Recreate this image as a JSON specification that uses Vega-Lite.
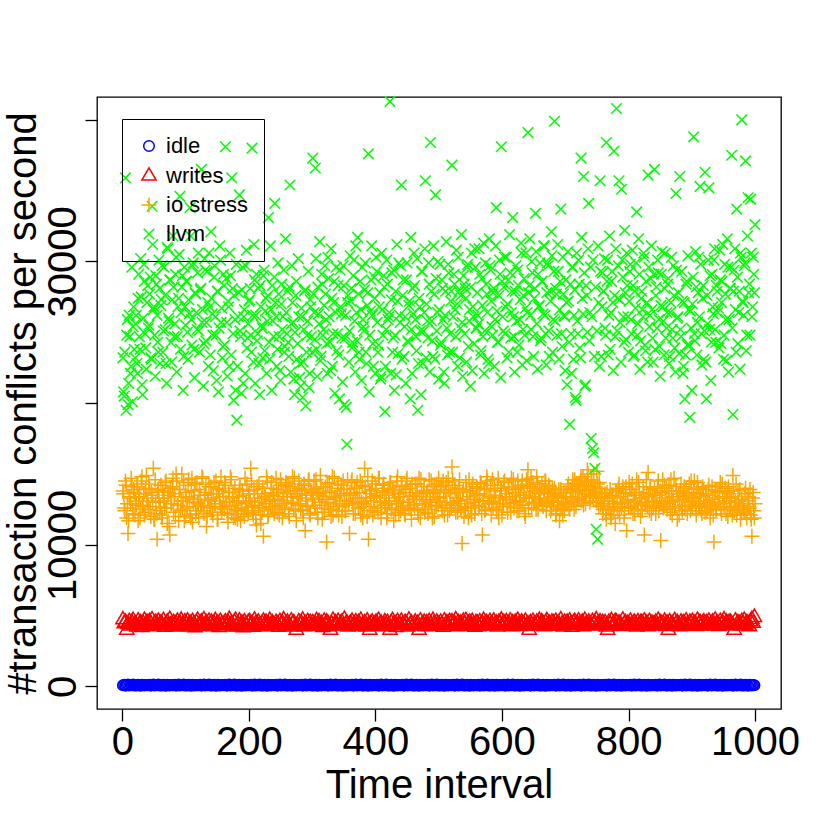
{
"$schema": "https://vega.github.io/schema/vega-lite/v6.json",
"width": 684, "height": 612,
"autosize": "none",
"padding": {"left": 97, "top": 97, "right": 49, "bottom": 121},
"background": "white",
"config": {"view": {"stroke": "black", "strokeWidth": 1.3}, "font": "Liberation Sans"},
"data": {"values": [
{"t":1,"a":85,"b":4710,"c":13800,"d":23200},{"t":3,"a":110,"b":4440,"c":12600,"d":20500},{"t":5,"a":62,"b":4540,"c":14500,"d":35900},{"t":7,"a":97,"b":3980,"c":11900,"d":24800},{"t":9,"a":130,"b":4380,"c":10800,"d":19900},{"t":11,"a":74,"b":4590,"c":13400,"d":26200},{"t":13,"a":102,"b":4270,"c":12900,"d":22100},{"t":15,"a":88,"b":4500,"c":14100,"d":29600},{"t":17,"a":145,"b":4670,"c":12200,"d":25400},{"t":19,"a":69,"b":4330,"c":13700,"d":23800},
{"t":21,"a":93,"b":4420,"c":13100,"d":25600},{"t":23,"a":71,"b":4210,"c":14300,"d":22800},{"t":25,"a":118,"b":4630,"c":11700,"d":27400},{"t":27,"a":84,"b":4350,"c":13600,"d":24700},{"t":29,"a":56,"b":4500,"c":12500,"d":30200},{"t":31,"a":126,"b":4170,"c":14800,"d":21300},{"t":33,"a":99,"b":4460,"c":12800,"d":26000},{"t":35,"a":77,"b":4670,"c":12100,"d":28600},{"t":37,"a":108,"b":4310,"c":13900,"d":23900},{"t":39,"a":90,"b":4540,"c":13300,"d":27100},
{"t":41,"a":85,"b":4270,"c":12700,"d":25300},{"t":43,"a":110,"b":4590,"c":14000,"d":27700},{"t":45,"a":62,"b":4380,"c":12000,"d":23200},{"t":47,"a":97,"b":4710,"c":13500,"d":33900},{"t":49,"a":130,"b":4230,"c":15400,"d":26600},{"t":51,"a":74,"b":4440,"c":11800,"d":24800},{"t":53,"a":102,"b":4540,"c":13000,"d":29000},{"t":55,"a":88,"b":4290,"c":10400,"d":26200},{"t":57,"a":145,"b":4610,"c":13800,"d":23600},{"t":59,"a":69,"b":4360,"c":12400,"d":28100},
{"t":61,"a":93,"b":4480,"c":14200,"d":26900},{"t":63,"a":71,"b":4330,"c":11900,"d":29700},{"t":65,"a":118,"b":4650,"c":13300,"d":25100},{"t":67,"a":84,"b":4190,"c":12600,"d":27600},{"t":69,"a":56,"b":4420,"c":14500,"d":22800},{"t":71,"a":126,"b":4550,"c":11500,"d":31000},{"t":73,"a":99,"b":4290,"c":13700,"d":26000},{"t":75,"a":77,"b":4730,"c":10700,"d":28700},{"t":77,"a":108,"b":4380,"c":12900,"d":24300},{"t":79,"a":90,"b":4250,"c":14100,"d":27300},
{"t":81,"a":85,"b":4520,"c":12300,"d":28200},{"t":83,"a":110,"b":4310,"c":13600,"d":25600},{"t":85,"a":62,"b":4440,"c":15000,"d":30300},{"t":87,"a":97,"b":4610,"c":12800,"d":24700},{"t":89,"a":130,"b":4210,"c":11700,"d":27400},{"t":91,"a":74,"b":4460,"c":13900,"d":34600},{"t":93,"a":102,"b":4690,"c":13100,"d":26400},{"t":95,"a":88,"b":4350,"c":12500,"d":29000},{"t":97,"a":145,"b":4270,"c":14400,"d":23300},{"t":99,"a":69,"b":4570,"c":12000,"d":26800},
{"t":101,"a":93,"b":4380,"c":13400,"d":28600},{"t":103,"a":71,"b":4630,"c":12700,"d":25000},{"t":105,"a":118,"b":4230,"c":14600,"d":27300},{"t":107,"a":84,"b":4480,"c":12100,"d":33800},{"t":109,"a":56,"b":4330,"c":13800,"d":25900},{"t":111,"a":126,"b":4590,"c":11600,"d":29700},{"t":113,"a":99,"b":4420,"c":13200,"d":23800},{"t":115,"a":77,"b":4160,"c":14300,"d":27800},{"t":117,"a":108,"b":4520,"c":12400,"d":26400},{"t":119,"a":90,"b":4670,"c":13000,"d":29200},
{"t":121,"a":85,"b":4310,"c":11900,"d":25100},{"t":123,"a":110,"b":4460,"c":13500,"d":28000},{"t":125,"a":62,"b":4550,"c":12800,"d":36500},{"t":127,"a":97,"b":4250,"c":14700,"d":26600},{"t":129,"a":130,"b":4710,"c":12200,"d":24200},{"t":131,"a":74,"b":4380,"c":13700,"d":29400},{"t":133,"a":102,"b":4500,"c":11300,"d":25700},{"t":135,"a":88,"b":4290,"c":13100,"d":27100},{"t":137,"a":145,"b":4610,"c":14100,"d":30600},{"t":139,"a":69,"b":4400,"c":12600,"d":23400},
{"t":141,"a":93,"b":4540,"c":13300,"d":27400},{"t":143,"a":71,"b":4230,"c":12100,"d":24800},{"t":145,"a":118,"b":4440,"c":14400,"d":28900},{"t":147,"a":84,"b":4650,"c":12900,"d":26100},{"t":149,"a":56,"b":4350,"c":13600,"d":21600},{"t":151,"a":126,"b":4480,"c":11800,"d":27900},{"t":153,"a":99,"b":4170,"c":14000,"d":25300},{"t":155,"a":77,"b":4590,"c":12700,"d":30100},{"t":157,"a":108,"b":4420,"c":12300,"d":26700},{"t":159,"a":90,"b":4330,"c":13800,"d":24000},
{"t":161,"a":85,"b":4440,"c":12500,"d":28300},{"t":163,"a":110,"b":4570,"c":14200,"d":38100},{"t":165,"a":62,"b":4270,"c":13000,"d":25700},{"t":167,"a":97,"b":4500,"c":11600,"d":27200},{"t":169,"a":130,"b":4740,"c":13400,"d":22600},{"t":171,"a":74,"b":4330,"c":14800,"d":29000},{"t":173,"a":102,"b":4460,"c":12200,"d":35900},{"t":175,"a":88,"b":4210,"c":13700,"d":24900},{"t":177,"a":145,"b":4540,"c":12800,"d":27600},{"t":179,"a":69,"b":4670,"c":11900,"d":20900},
{"t":181,"a":93,"b":4230,"c":13100,"d":18800},{"t":183,"a":71,"b":4400,"c":12400,"d":26100},{"t":185,"a":118,"b":4630,"c":13900,"d":34700},{"t":187,"a":84,"b":4310,"c":11700,"d":24700},{"t":189,"a":56,"b":4480,"c":12600,"d":28000},{"t":191,"a":126,"b":4160,"c":13500,"d":21400},{"t":193,"a":99,"b":4570,"c":12000,"d":26600},{"t":195,"a":77,"b":4420,"c":12900,"d":29700},{"t":197,"a":108,"b":4270,"c":14300,"d":23900},{"t":199,"a":90,"b":4520,"c":12200,"d":25600},
{"t":201,"a":85,"b":4590,"c":13800,"d":27300},{"t":203,"a":110,"b":4350,"c":15400,"d":24800},{"t":205,"a":62,"b":4460,"c":12700,"d":38000},{"t":207,"a":97,"b":4190,"c":12100,"d":22900},{"t":209,"a":130,"b":4690,"c":13300,"d":28700},{"t":211,"a":74,"b":4440,"c":11800,"d":26200},{"t":213,"a":102,"b":4290,"c":14100,"d":24400},{"t":215,"a":88,"b":4550,"c":12600,"d":28100},{"t":217,"a":145,"b":4380,"c":13000,"d":20600},{"t":219,"a":69,"b":4250,"c":11500,"d":26800},
{"t":221,"a":93,"b":4460,"c":12400,"d":25300},{"t":223,"a":71,"b":4610,"c":10600,"d":29000},{"t":225,"a":118,"b":4330,"c":13600,"d":23700},{"t":227,"a":84,"b":4540,"c":12900,"d":27400},{"t":229,"a":56,"b":4230,"c":14500,"d":25800},{"t":231,"a":126,"b":4400,"c":12100,"d":33100},{"t":233,"a":99,"b":4670,"c":13200,"d":23100},{"t":235,"a":77,"b":4310,"c":14000,"d":26600},{"t":237,"a":108,"b":4500,"c":12500,"d":28300},{"t":239,"a":90,"b":4360,"c":13700,"d":24700},
{"t":241,"a":85,"b":4290,"c":13100,"d":34100},{"t":243,"a":110,"b":4520,"c":14700,"d":26100},{"t":245,"a":62,"b":4420,"c":12300,"d":23800},{"t":247,"a":97,"b":4190,"c":13900,"d":27700},{"t":249,"a":130,"b":4590,"c":12800,"d":22300},{"t":251,"a":74,"b":4350,"c":14200,"d":27000},{"t":253,"a":102,"b":4480,"c":11900,"d":25200},{"t":255,"a":88,"b":4710,"c":13400,"d":29400},{"t":257,"a":145,"b":4250,"c":12600,"d":24000},{"t":259,"a":69,"b":4440,"c":14400,"d":26400},
{"t":261,"a":93,"b":4540,"c":13600,"d":27900},{"t":263,"a":71,"b":4380,"c":12200,"d":23300},{"t":265,"a":118,"b":4270,"c":14100,"d":35400},{"t":267,"a":84,"b":4630,"c":13000,"d":25600},{"t":269,"a":56,"b":4420,"c":14800,"d":27100},{"t":271,"a":126,"b":4500,"c":12500,"d":21700},{"t":273,"a":99,"b":4210,"c":13800,"d":25000},{"t":275,"a":77,"b":3980,"c":11700,"d":28600},{"t":277,"a":108,"b":4330,"c":13300,"d":24200},{"t":279,"a":90,"b":4570,"c":14500,"d":26100},
{"t":281,"a":85,"b":4360,"c":12900,"d":22800},{"t":283,"a":110,"b":4480,"c":13900,"d":26700},{"t":285,"a":62,"b":4690,"c":12400,"d":20400},{"t":287,"a":97,"b":4230,"c":14300,"d":25200},{"t":289,"a":130,"b":4460,"c":11000,"d":28000},{"t":291,"a":74,"b":4310,"c":13500,"d":23600},{"t":293,"a":102,"b":4590,"c":12700,"d":25800},{"t":295,"a":88,"b":4400,"c":14600,"d":21100},{"t":297,"a":145,"b":4520,"c":12100,"d":27300},{"t":299,"a":69,"b":4270,"c":13700,"d":24700},
{"t":301,"a":93,"b":4500,"c":13200,"d":37300},{"t":303,"a":71,"b":4250,"c":14500,"d":26400},{"t":305,"a":118,"b":4400,"c":12600,"d":36600},{"t":307,"a":84,"b":4650,"c":14000,"d":23800},{"t":309,"a":56,"b":4350,"c":11900,"d":28200},{"t":311,"a":126,"b":4570,"c":13600,"d":25600},{"t":313,"a":99,"b":4290,"c":14900,"d":23000},{"t":315,"a":77,"b":4440,"c":12800,"d":29100},{"t":317,"a":108,"b":4170,"c":13400,"d":24800},{"t":319,"a":90,"b":4610,"c":12300,"d":26900},
{"t":321,"a":85,"b":4330,"c":14100,"d":27700},{"t":323,"a":110,"b":4550,"c":10200,"d":24200},{"t":325,"a":62,"b":4460,"c":13000,"d":30300},{"t":327,"a":97,"b":4230,"c":14400,"d":26100},{"t":329,"a":130,"b":3980,"c":12500,"d":22300},{"t":331,"a":74,"b":4400,"c":13800,"d":27400},{"t":333,"a":102,"b":4670,"c":12100,"d":24900},{"t":335,"a":88,"b":4310,"c":14700,"d":28600},{"t":337,"a":145,"b":4500,"c":13300,"d":26400},{"t":339,"a":69,"b":4380,"c":12700,"d":23700},
{"t":341,"a":93,"b":4590,"c":14300,"d":28300},{"t":343,"a":71,"b":4290,"c":12900,"d":20300},{"t":345,"a":118,"b":4440,"c":13600,"d":26800},{"t":347,"a":84,"b":4540,"c":12000,"d":24600},{"t":349,"a":56,"b":4270,"c":14500,"d":29700},{"t":351,"a":126,"b":4740,"c":13100,"d":19900},{"t":353,"a":99,"b":4380,"c":12400,"d":26200},{"t":355,"a":77,"b":4480,"c":13900,"d":17100},{"t":357,"a":108,"b":4210,"c":12800,"d":27600},{"t":359,"a":90,"b":4420,"c":10800,"d":25100},
{"t":361,"a":85,"b":4460,"c":13500,"d":27200},{"t":363,"a":110,"b":4610,"c":14600,"d":23900},{"t":365,"a":62,"b":4310,"c":12200,"d":29000},{"t":367,"a":97,"b":4400,"c":14000,"d":25800},{"t":369,"a":130,"b":4570,"c":13000,"d":31100},{"t":371,"a":74,"b":4250,"c":14400,"d":24400},{"t":373,"a":102,"b":4520,"c":12600,"d":27700},{"t":375,"a":88,"b":4350,"c":13700,"d":23100},{"t":377,"a":145,"b":4670,"c":12100,"d":26600},{"t":379,"a":69,"b":4290,"c":14200,"d":29600},
{"t":381,"a":93,"b":4380,"c":12900,"d":25400},{"t":383,"a":71,"b":4500,"c":15400,"d":28000},{"t":385,"a":118,"b":4210,"c":13300,"d":23600},{"t":387,"a":84,"b":4630,"c":12000,"d":26900},{"t":389,"a":56,"b":4330,"c":10400,"d":37600},{"t":391,"a":126,"b":3980,"c":13800,"d":24800},{"t":393,"a":99,"b":4460,"c":12700,"d":28700},{"t":395,"a":77,"b":4550,"c":14500,"d":26200},{"t":397,"a":108,"b":4290,"c":13100,"d":22600},{"t":399,"a":90,"b":4420,"c":12400,"d":27400},
{"t":401,"a":85,"b":4540,"c":14000,"d":30300},{"t":403,"a":110,"b":4270,"c":12600,"d":25700},{"t":405,"a":62,"b":4670,"c":14700,"d":24100},{"t":407,"a":97,"b":4360,"c":13300,"d":27800},{"t":409,"a":130,"b":4480,"c":11900,"d":21900},{"t":411,"a":74,"b":4230,"c":13800,"d":26600},{"t":413,"a":102,"b":4400,"c":14300,"d":29000},{"t":415,"a":88,"b":4570,"c":12800,"d":19400},{"t":417,"a":145,"b":4310,"c":13500,"d":25200},{"t":419,"a":69,"b":4520,"c":12200,"d":28400},
{"t":421,"a":93,"b":4250,"c":13100,"d":26100},{"t":423,"a":71,"b":3980,"c":14400,"d":41300},{"t":425,"a":118,"b":4500,"c":12500,"d":27300},{"t":427,"a":84,"b":4650,"c":13900,"d":23600},{"t":429,"a":56,"b":4350,"c":11700,"d":29400},{"t":431,"a":126,"b":4440,"c":13600,"d":24800},{"t":433,"a":99,"b":4170,"c":12900,"d":22000},{"t":435,"a":77,"b":4590,"c":14800,"d":27200},{"t":437,"a":108,"b":4420,"c":12300,"d":29900},{"t":439,"a":90,"b":4310,"c":13400,"d":25700},
{"t":441,"a":85,"b":4610,"c":14200,"d":35400},{"t":443,"a":110,"b":4380,"c":12700,"d":27600},{"t":445,"a":62,"b":4290,"c":13700,"d":23300},{"t":447,"a":97,"b":4520,"c":12100,"d":26100},{"t":449,"a":130,"b":4440,"c":14500,"d":28700},{"t":451,"a":74,"b":4210,"c":13000,"d":24400},{"t":453,"a":102,"b":4690,"c":12600,"d":26900},{"t":455,"a":88,"b":4350,"c":14000,"d":20300},{"t":457,"a":145,"b":4480,"c":11800,"d":25200},{"t":459,"a":69,"b":4270,"c":13500,"d":28100},
{"t":461,"a":93,"b":4400,"c":12800,"d":30600},{"t":463,"a":71,"b":4550,"c":14300,"d":25900},{"t":465,"a":118,"b":4330,"c":13200,"d":23700},{"t":467,"a":84,"b":4460,"c":12400,"d":19500},{"t":469,"a":56,"b":3980,"c":14700,"d":27400},{"t":471,"a":126,"b":4630,"c":11900,"d":25100},{"t":473,"a":99,"b":4310,"c":13600,"d":29300},{"t":475,"a":77,"b":4420,"c":12900,"d":22800},{"t":477,"a":108,"b":4540,"c":14100,"d":26400},{"t":479,"a":90,"b":4230,"c":12500,"d":35700},
{"t":481,"a":85,"b":4500,"c":13700,"d":27000},{"t":483,"a":110,"b":4290,"c":12200,"d":24600},{"t":485,"a":62,"b":4590,"c":14600,"d":28400},{"t":487,"a":97,"b":4380,"c":13000,"d":38400},{"t":489,"a":130,"b":4250,"c":12700,"d":25800},{"t":491,"a":74,"b":4670,"c":13900,"d":23300},{"t":493,"a":102,"b":4460,"c":12000,"d":27700},{"t":495,"a":88,"b":4330,"c":13400,"d":34700},{"t":497,"a":145,"b":4550,"c":14300,"d":25100},{"t":499,"a":69,"b":4400,"c":12800,"d":30000},
{"t":501,"a":93,"b":4270,"c":13300,"d":26600},{"t":503,"a":71,"b":4540,"c":14100,"d":24100},{"t":505,"a":118,"b":4420,"c":12600,"d":28700},{"t":507,"a":84,"b":4190,"c":14500,"d":25900},{"t":509,"a":56,"b":4630,"c":12100,"d":21400},{"t":511,"a":126,"b":4360,"c":13800,"d":27900},{"t":513,"a":99,"b":4500,"c":13000,"d":25300},{"t":515,"a":77,"b":4290,"c":14700,"d":29800},{"t":517,"a":108,"b":4590,"c":12400,"d":23600},{"t":519,"a":90,"b":4440,"c":13600,"d":27200},
{"t":521,"a":85,"b":4570,"c":15500,"d":36800},{"t":523,"a":110,"b":4330,"c":12900,"d":26100},{"t":525,"a":62,"b":4460,"c":14200,"d":28400},{"t":527,"a":97,"b":4710,"c":12300,"d":24700},{"t":529,"a":130,"b":4230,"c":13700,"d":27000},{"t":531,"a":74,"b":4520,"c":13100,"d":30300},{"t":533,"a":102,"b":4380,"c":14600,"d":23200},{"t":535,"a":88,"b":4480,"c":12500,"d":27600},{"t":537,"a":145,"b":4310,"c":10100,"d":25700},{"t":539,"a":69,"b":4610,"c":13900,"d":29000},
{"t":541,"a":93,"b":4360,"c":12700,"d":24900},{"t":543,"a":71,"b":4650,"c":14400,"d":27400},{"t":545,"a":118,"b":4250,"c":13200,"d":29600},{"t":547,"a":84,"b":4440,"c":11900,"d":24000},{"t":549,"a":56,"b":4540,"c":13800,"d":26600},{"t":551,"a":126,"b":4310,"c":12600,"d":28200},{"t":553,"a":99,"b":4590,"c":14100,"d":22300},{"t":555,"a":77,"b":4400,"c":13000,"d":26100},{"t":557,"a":108,"b":4190,"c":12200,"d":30900},{"t":559,"a":90,"b":4500,"c":13500,"d":25300},
{"t":561,"a":85,"b":4480,"c":14000,"d":27800},{"t":563,"a":110,"b":4230,"c":12800,"d":25600},{"t":565,"a":62,"b":4570,"c":13600,"d":29100},{"t":567,"a":97,"b":4350,"c":14300,"d":23700},{"t":569,"a":130,"b":4460,"c":10700,"d":26900},{"t":571,"a":74,"b":4670,"c":13100,"d":31300},{"t":573,"a":102,"b":4270,"c":12400,"d":25100},{"t":575,"a":88,"b":4520,"c":13900,"d":28400},{"t":577,"a":145,"b":4420,"c":14500,"d":26400},{"t":579,"a":69,"b":4330,"c":12900,"d":22800},
{"t":581,"a":93,"b":4590,"c":13400,"d":29700},{"t":583,"a":71,"b":4400,"c":12100,"d":27200},{"t":585,"a":118,"b":4310,"c":14600,"d":24800},{"t":587,"a":84,"b":4630,"c":13000,"d":28100},{"t":589,"a":56,"b":4360,"c":13800,"d":25900},{"t":591,"a":126,"b":4480,"c":12500,"d":33800},{"t":593,"a":99,"b":4210,"c":14200,"d":24300},{"t":595,"a":77,"b":4540,"c":11900,"d":27600},{"t":597,"a":108,"b":4440,"c":13300,"d":29100},{"t":599,"a":90,"b":4690,"c":14000,"d":38100},
{"t":601,"a":85,"b":4290,"c":12700,"d":26100},{"t":603,"a":110,"b":4520,"c":14400,"d":28200},{"t":605,"a":62,"b":4420,"c":13200,"d":24900},{"t":607,"a":97,"b":4570,"c":13600,"d":30300},{"t":609,"a":130,"b":4330,"c":12300,"d":27000},{"t":611,"a":74,"b":4440,"c":14100,"d":23600},{"t":613,"a":102,"b":4630,"c":12900,"d":29200},{"t":615,"a":88,"b":4230,"c":14700,"d":26400},{"t":617,"a":145,"b":4500,"c":13400,"d":33100},{"t":619,"a":69,"b":4380,"c":12600,"d":24700},
{"t":621,"a":93,"b":4540,"c":13900,"d":27900},{"t":623,"a":71,"b":4310,"c":13100,"d":25800},{"t":625,"a":118,"b":4670,"c":14500,"d":29400},{"t":627,"a":84,"b":4400,"c":12400,"d":24100},{"t":629,"a":56,"b":4250,"c":13700,"d":27300},{"t":631,"a":126,"b":4550,"c":14200,"d":30600},{"t":633,"a":99,"b":4460,"c":12800,"d":25200},{"t":635,"a":77,"b":4350,"c":13500,"d":28800},{"t":637,"a":108,"b":4610,"c":12000,"d":26700},{"t":639,"a":90,"b":4270,"c":14600,"d":23000},
{"t":641,"a":85,"b":4420,"c":15300,"d":39100},{"t":643,"a":110,"b":3980,"c":13300,"d":28300},{"t":645,"a":62,"b":4500,"c":14000,"d":26200},{"t":647,"a":97,"b":4330,"c":12600,"d":30000},{"t":649,"a":130,"b":4590,"c":14400,"d":24700},{"t":651,"a":74,"b":4380,"c":13000,"d":27400},{"t":653,"a":102,"b":4270,"c":13700,"d":33400},{"t":655,"a":88,"b":4540,"c":14800,"d":25600},{"t":657,"a":145,"b":4440,"c":12500,"d":29100},{"t":659,"a":69,"b":4670,"c":13900,"d":26900},
{"t":661,"a":93,"b":4330,"c":13200,"d":24400},{"t":663,"a":71,"b":4570,"c":14300,"d":28600},{"t":665,"a":118,"b":4440,"c":12700,"d":26300},{"t":667,"a":84,"b":4230,"c":13800,"d":31100},{"t":669,"a":56,"b":4500,"c":14500,"d":24900},{"t":671,"a":126,"b":4650,"c":12900,"d":27800},{"t":673,"a":99,"b":4360,"c":13600,"d":29700},{"t":675,"a":77,"b":4460,"c":14100,"d":23300},{"t":677,"a":108,"b":4290,"c":12400,"d":27200},{"t":679,"a":90,"b":4550,"c":13400,"d":30400},
{"t":681,"a":85,"b":4500,"c":12800,"d":25900},{"t":683,"a":110,"b":4270,"c":14000,"d":39900},{"t":685,"a":62,"b":4610,"c":12100,"d":28100},{"t":687,"a":97,"b":4380,"c":13500,"d":24800},{"t":689,"a":130,"b":4480,"c":13000,"d":29300},{"t":691,"a":74,"b":4310,"c":11700,"d":26600},{"t":693,"a":102,"b":4710,"c":13900,"d":33700},{"t":695,"a":88,"b":4420,"c":12600,"d":24000},{"t":697,"a":145,"b":4210,"c":13300,"d":27700},{"t":699,"a":69,"b":4540,"c":12400,"d":26100},
{"t":701,"a":93,"b":4380,"c":13700,"d":28700},{"t":703,"a":71,"b":4540,"c":12900,"d":21300},{"t":705,"a":118,"b":4290,"c":14300,"d":27200},{"t":707,"a":84,"b":4630,"c":12500,"d":18500},{"t":709,"a":56,"b":4420,"c":13400,"d":24900},{"t":711,"a":126,"b":4190,"c":14000,"d":29600},{"t":713,"a":99,"b":4500,"c":13100,"d":23100},{"t":715,"a":77,"b":4590,"c":14600,"d":28000},{"t":717,"a":108,"b":4330,"c":12700,"d":20200},{"t":719,"a":90,"b":4460,"c":13800,"d":25800},
{"t":721,"a":85,"b":4630,"c":14200,"d":30100},{"t":723,"a":110,"b":4310,"c":13300,"d":23900},{"t":725,"a":62,"b":4460,"c":14700,"d":37300},{"t":727,"a":97,"b":4540,"c":13900,"d":27400},{"t":729,"a":130,"b":4230,"c":12800,"d":36000},{"t":731,"a":74,"b":4670,"c":14400,"d":21200},{"t":733,"a":102,"b":4400,"c":13600,"d":28300},{"t":735,"a":88,"b":4330,"c":15300,"d":25000},{"t":737,"a":145,"b":4550,"c":14100,"d":34100},{"t":739,"a":69,"b":4440,"c":13000,"d":26400},
{"t":741,"a":93,"b":4270,"c":14500,"d":17500},{"t":743,"a":71,"b":4590,"c":13500,"d":16800},{"t":745,"a":118,"b":4380,"c":15000,"d":16500},{"t":747,"a":84,"b":4480,"c":13800,"d":15400},{"t":749,"a":56,"b":4710,"c":13100,"d":11100},{"t":751,"a":126,"b":4350,"c":14300,"d":10400},{"t":753,"a":99,"b":4440,"c":12700,"d":27100},{"t":755,"a":77,"b":4570,"c":14000,"d":35700},{"t":757,"a":108,"b":4310,"c":13400,"d":23300},{"t":759,"a":90,"b":4520,"c":12200,"d":29200},
{"t":761,"a":85,"b":4420,"c":12900,"d":27900},{"t":763,"a":110,"b":4500,"c":13600,"d":25300},{"t":765,"a":62,"b":4210,"c":11800,"d":38400},{"t":767,"a":97,"b":3980,"c":13100,"d":30100},{"t":769,"a":130,"b":4540,"c":12500,"d":26200},{"t":771,"a":74,"b":4380,"c":13900,"d":23800},{"t":773,"a":102,"b":4650,"c":12100,"d":28600},{"t":775,"a":88,"b":4290,"c":13300,"d":27100},{"t":777,"a":145,"b":4440,"c":12700,"d":37800},{"t":779,"a":69,"b":4590,"c":11500,"d":24700},
{"t":781,"a":93,"b":4550,"c":13800,"d":40800},{"t":783,"a":71,"b":4330,"c":12400,"d":27400},{"t":785,"a":118,"b":4480,"c":14300,"d":35700},{"t":787,"a":84,"b":4420,"c":13000,"d":25700},{"t":789,"a":56,"b":4250,"c":12600,"d":35100},{"t":791,"a":126,"b":4690,"c":14100,"d":28900},{"t":793,"a":99,"b":4380,"c":11900,"d":24300},{"t":795,"a":77,"b":4520,"c":13600,"d":27800},{"t":797,"a":108,"b":4290,"c":11000,"d":30600},{"t":799,"a":90,"b":4460,"c":13200,"d":26100},
{"t":801,"a":85,"b":4310,"c":14400,"d":27200},{"t":803,"a":110,"b":4610,"c":12700,"d":29800},{"t":805,"a":62,"b":4400,"c":13900,"d":24900},{"t":807,"a":97,"b":4270,"c":12200,"d":28300},{"t":809,"a":130,"b":4540,"c":13500,"d":23400},{"t":811,"a":74,"b":4440,"c":13000,"d":26700},{"t":813,"a":102,"b":4210,"c":14600,"d":33500},{"t":815,"a":88,"b":4570,"c":12500,"d":25600},{"t":817,"a":145,"b":4350,"c":13700,"d":29100},{"t":819,"a":69,"b":4500,"c":12000,"d":24400},
{"t":821,"a":93,"b":4520,"c":13300,"d":27900},{"t":823,"a":71,"b":4290,"c":14100,"d":26100},{"t":825,"a":118,"b":4630,"c":10700,"d":30300},{"t":827,"a":84,"b":4380,"c":12800,"d":23700},{"t":829,"a":56,"b":4460,"c":13600,"d":27100},{"t":831,"a":126,"b":4230,"c":15100,"d":36100},{"t":833,"a":99,"b":4590,"c":12400,"d":25400},{"t":835,"a":77,"b":4330,"c":13900,"d":28800},{"t":837,"a":108,"b":4480,"c":13100,"d":26600},{"t":839,"a":90,"b":4400,"c":12600,"d":22900},
{"t":841,"a":85,"b":4400,"c":14000,"d":36500},{"t":843,"a":110,"b":4540,"c":12200,"d":27600},{"t":845,"a":62,"b":4270,"c":13500,"d":25300},{"t":847,"a":97,"b":4670,"c":14500,"d":29200},{"t":849,"a":130,"b":4360,"c":12900,"d":24000},{"t":851,"a":74,"b":4500,"c":10300,"d":26900},{"t":853,"a":102,"b":4310,"c":13700,"d":30700},{"t":855,"a":88,"b":4440,"c":12600,"d":25800},{"t":857,"a":145,"b":4610,"c":14200,"d":28100},{"t":859,"a":69,"b":4250,"c":13100,"d":24600},
{"t":861,"a":93,"b":4480,"c":12500,"d":26400},{"t":863,"a":71,"b":3980,"c":13800,"d":28800},{"t":865,"a":118,"b":4570,"c":13000,"d":23300},{"t":867,"a":84,"b":4330,"c":14600,"d":27100},{"t":869,"a":56,"b":4440,"c":12100,"d":25200},{"t":871,"a":126,"b":4270,"c":13400,"d":29700},{"t":873,"a":99,"b":4650,"c":12700,"d":23900},{"t":875,"a":77,"b":4400,"c":14100,"d":34800},{"t":877,"a":108,"b":4520,"c":11800,"d":26000},{"t":879,"a":90,"b":4350,"c":13600,"d":27800},
{"t":881,"a":85,"b":4230,"c":13200,"d":36000},{"t":883,"a":110,"b":4550,"c":14300,"d":24700},{"t":885,"a":62,"b":4420,"c":12400,"d":27200},{"t":887,"a":97,"b":4500,"c":13700,"d":22600},{"t":889,"a":130,"b":4310,"c":12800,"d":20300},{"t":891,"a":74,"b":4630,"c":14000,"d":28400},{"t":893,"a":102,"b":4380,"c":12200,"d":24100},{"t":895,"a":88,"b":4290,"c":13500,"d":26600},{"t":897,"a":145,"b":4540,"c":13000,"d":19000},{"t":899,"a":69,"b":4440,"c":14500,"d":25300},
{"t":901,"a":93,"b":4590,"c":12700,"d":27000},{"t":903,"a":71,"b":4350,"c":13900,"d":38800},{"t":905,"a":118,"b":4480,"c":13300,"d":24400},{"t":907,"a":84,"b":4250,"c":12100,"d":28200},{"t":909,"a":56,"b":4670,"c":14400,"d":25700},{"t":911,"a":126,"b":4400,"c":12900,"d":30300},{"t":913,"a":99,"b":4520,"c":13600,"d":35300},{"t":915,"a":77,"b":4310,"c":12400,"d":24900},{"t":917,"a":108,"b":4460,"c":14100,"d":27400},{"t":919,"a":90,"b":4570,"c":13100,"d":23100},
{"t":921,"a":85,"b":4330,"c":12300,"d":36300},{"t":923,"a":110,"b":4500,"c":13500,"d":20300},{"t":925,"a":62,"b":4380,"c":12800,"d":25600},{"t":927,"a":97,"b":4610,"c":14200,"d":35200},{"t":929,"a":130,"b":4270,"c":11900,"d":29000},{"t":931,"a":74,"b":4440,"c":12600,"d":24300},{"t":933,"a":102,"b":4550,"c":13200,"d":26800},{"t":935,"a":88,"b":4290,"c":10200,"d":30100},{"t":937,"a":145,"b":4690,"c":13800,"d":25200},{"t":939,"a":69,"b":4420,"c":12500,"d":28300},
{"t":941,"a":93,"b":4460,"c":13700,"d":26400},{"t":943,"a":71,"b":4250,"c":12900,"d":23900},{"t":945,"a":118,"b":4590,"c":14400,"d":28700},{"t":947,"a":84,"b":4350,"c":12200,"d":27100},{"t":949,"a":56,"b":4480,"c":13400,"d":31200},{"t":951,"a":126,"b":4710,"c":12700,"d":24800},{"t":953,"a":99,"b":4310,"c":14000,"d":27700},{"t":955,"a":77,"b":4540,"c":13100,"d":23000},{"t":957,"a":108,"b":4400,"c":12000,"d":29600},{"t":959,"a":90,"b":4520,"c":13600,"d":25900},
{"t":961,"a":85,"b":4540,"c":12600,"d":28100},{"t":963,"a":110,"b":4420,"c":13300,"d":37500},{"t":965,"a":62,"b":4290,"c":14900,"d":19200},{"t":967,"a":97,"b":3980,"c":12400,"d":29400},{"t":969,"a":130,"b":4630,"c":13000,"d":26600},{"t":971,"a":74,"b":4360,"c":12100,"d":33700},{"t":973,"a":102,"b":4500,"c":13800,"d":24200},{"t":975,"a":88,"b":4440,"c":12700,"d":27900},{"t":977,"a":145,"b":4270,"c":11800,"d":30600},{"t":979,"a":69,"b":4590,"c":13200,"d":40000},
{"t":981,"a":93,"b":4380,"c":12800,"d":27100},{"t":983,"a":71,"b":4670,"c":12300,"d":29700},{"t":985,"a":118,"b":4330,"c":14000,"d":37100},{"t":987,"a":84,"b":4500,"c":11900,"d":24800},{"t":989,"a":56,"b":4440,"c":13400,"d":34500},{"t":991,"a":126,"b":4230,"c":12600,"d":28400},{"t":993,"a":99,"b":4570,"c":12100,"d":34400},{"t":995,"a":77,"b":4740,"c":10600,"d":26100},{"t":997,"a":108,"b":4480,"c":13700,"d":30300},{"t":999,"a":90,"b":4880,"c":11900,"d":27800},
{"t":2,"c":13600,"d":20800},{"t":4,"c":12400,"d":23600},{"t":6,"c":14200,"d":19500},{"t":8,"c":12900,"d":25900},{"t":10,"c":11700,"d":21400},{"t":12,"c":13300,"d":24700},{"t":14,"c":14700,"d":22600},{"t":16,"c":12600,"d":20100},{"t":18,"c":13900,"d":26800},{"t":20,"c":12100,"d":23200},
{"t":22,"c":12800,"d":26200},{"t":24,"c":14100,"d":22100},{"t":26,"c":13400,"d":29100},{"t":28,"c":11900,"d":23800},{"t":30,"c":14500,"d":27500},{"t":32,"c":12700,"d":20600},{"t":34,"c":13600,"d":29800},{"t":36,"c":12300,"d":24900},{"t":38,"c":14900,"d":22400},{"t":40,"c":13100,"d":28300},
{"t":42,"c":14300,"d":25500},{"t":44,"c":12500,"d":28900},{"t":46,"c":13700,"d":23100},{"t":48,"c":13000,"d":31200},{"t":50,"c":11800,"d":26800},{"t":52,"c":14600,"d":21900},{"t":54,"c":12200,"d":28400},{"t":56,"c":13900,"d":24300},{"t":58,"c":13300,"d":30100},{"t":60,"c":12700,"d":22800},
{"t":62,"c":12100,"d":27300},{"t":64,"c":13800,"d":23600},{"t":66,"c":13100,"d":29600},{"t":68,"c":14400,"d":25200},{"t":70,"c":12600,"d":21400},{"t":72,"c":13500,"d":30900},{"t":74,"c":11300,"d":25800},{"t":76,"c":14000,"d":28700},{"t":78,"c":12900,"d":22900},{"t":80,"c":14700,"d":31800},
{"t":82,"c":13400,"d":24700},{"t":84,"c":12000,"d":29100},{"t":86,"c":14500,"d":22200},{"t":88,"c":12800,"d":26800},{"t":90,"c":13900,"d":30500},{"t":92,"c":12400,"d":23800},{"t":94,"c":15000,"d":28200},{"t":96,"c":13100,"d":20900},{"t":98,"c":11700,"d":29600},{"t":100,"c":13700,"d":25500},
{"t":102,"c":12600,"d":28600},{"t":104,"c":14200,"d":23100},{"t":106,"c":13300,"d":26300},{"t":108,"c":11900,"d":31800},{"t":110,"c":14700,"d":24100},{"t":112,"c":13000,"d":29900},{"t":114,"c":13800,"d":21800},{"t":116,"c":12200,"d":27700},{"t":118,"c":14400,"d":25200},{"t":120,"c":12900,"d":30600},
{"t":122,"c":13900,"d":23600},{"t":124,"c":12700,"d":28100},{"t":126,"c":14800,"d":25700},{"t":128,"c":12400,"d":21200},{"t":130,"c":13500,"d":30200},{"t":132,"c":14300,"d":24400},{"t":134,"c":12000,"d":29300},{"t":136,"c":13200,"d":22600},{"t":138,"c":12700,"d":26800},{"t":140,"c":14100,"d":32100},
{"t":142,"c":12300,"d":26300},{"t":144,"c":13600,"d":22300},{"t":146,"c":12900,"d":29700},{"t":148,"c":14500,"d":24800},{"t":150,"c":11800,"d":27900},{"t":152,"c":13900,"d":20800},{"t":154,"c":13100,"d":31100},{"t":156,"c":14800,"d":25700},{"t":158,"c":12600,"d":23200},{"t":160,"c":13400,"d":29100},
{"t":162,"c":14400,"d":24100},{"t":164,"c":13000,"d":28800},{"t":166,"c":12100,"d":21900},{"t":168,"c":13700,"d":26800},{"t":170,"c":12700,"d":30600},{"t":172,"c":14600,"d":23400},{"t":174,"c":13300,"d":28100},{"t":176,"c":11900,"d":20200},{"t":178,"c":14000,"d":25900},{"t":180,"c":12500,"d":29800},
{"t":182,"c":11800,"d":22600},{"t":184,"c":13400,"d":27800},{"t":186,"c":14200,"d":25100},{"t":188,"c":12600,"d":20700},{"t":190,"c":13800,"d":29600},{"t":192,"c":12200,"d":26100},{"t":194,"c":14700,"d":22100},{"t":196,"c":13000,"d":30800},{"t":198,"c":12400,"d":24600},{"t":200,"c":13600,"d":27200},
{"t":202,"c":13100,"d":28100},{"t":204,"c":14500,"d":23600},{"t":206,"c":12300,"d":26200},{"t":208,"c":13900,"d":31200},{"t":210,"c":12800,"d":21400},{"t":212,"c":11400,"d":29100},{"t":214,"c":13600,"d":24900},{"t":216,"c":14300,"d":22800},{"t":218,"c":12100,"d":28300},{"t":220,"c":13300,"d":25500},
{"t":222,"c":14000,"d":23200},{"t":224,"c":12600,"d":29400},{"t":226,"c":13400,"d":26500},{"t":228,"c":14800,"d":22100},{"t":230,"c":12000,"d":27600},{"t":232,"c":13100,"d":24300},{"t":234,"c":12700,"d":31100},{"t":236,"c":14400,"d":20900},{"t":238,"c":13500,"d":25800},{"t":240,"c":12200,"d":28900},
{"t":242,"c":12700,"d":27100},{"t":244,"c":13900,"d":22600},{"t":246,"c":13200,"d":29900},{"t":248,"c":12100,"d":24700},{"t":250,"c":14600,"d":21600},{"t":252,"c":12900,"d":28400},{"t":254,"c":13700,"d":26100},{"t":256,"c":12500,"d":23600},{"t":258,"c":14200,"d":31600},{"t":260,"c":13100,"d":24900},
{"t":262,"c":14300,"d":24300},{"t":264,"c":12000,"d":28200},{"t":266,"c":13800,"d":22200},{"t":268,"c":12900,"d":29700},{"t":270,"c":13400,"d":25700},{"t":272,"c":14700,"d":20600},{"t":274,"c":12400,"d":27600},{"t":276,"c":13600,"d":23100},{"t":278,"c":12800,"d":30200},{"t":280,"c":14000,"d":21800},
{"t":282,"c":12500,"d":21200},{"t":284,"c":13600,"d":26100},{"t":286,"c":11900,"d":22900},{"t":288,"c":14200,"d":27900},{"t":290,"c":13100,"d":19800},{"t":292,"c":12700,"d":24800},{"t":294,"c":14500,"d":29300},{"t":296,"c":12200,"d":22100},{"t":298,"c":13800,"d":26800},{"t":300,"c":13300,"d":23600},
{"t":302,"c":13900,"d":27700},{"t":304,"c":12800,"d":24500},{"t":306,"c":14600,"d":30200},{"t":308,"c":12300,"d":21900},{"t":310,"c":13500,"d":26300},{"t":312,"c":13000,"d":31400},{"t":314,"c":14100,"d":23300},{"t":316,"c":11800,"d":28400},{"t":318,"c":13700,"d":25200},{"t":320,"c":12600,"d":29700},
{"t":322,"c":13200,"d":25900},{"t":324,"c":14300,"d":22100},{"t":326,"c":12500,"d":28800},{"t":328,"c":13700,"d":24300},{"t":330,"c":12000,"d":30900},{"t":332,"c":14800,"d":22600},{"t":334,"c":12900,"d":27100},{"t":336,"c":13400,"d":20700},{"t":338,"c":12400,"d":29600},{"t":340,"c":14000,"d":24900},
{"t":342,"c":12100,"d":23400},{"t":344,"c":13500,"d":29400},{"t":346,"c":14200,"d":26300},{"t":348,"c":12700,"d":21500},{"t":350,"c":13900,"d":28300},{"t":352,"c":12400,"d":24600},{"t":354,"c":13100,"d":19700},{"t":356,"c":14600,"d":27100},{"t":358,"c":12900,"d":22900},{"t":360,"c":13700,"d":30400},
{"t":362,"c":14400,"d":28100},{"t":364,"c":12900,"d":24300},{"t":366,"c":13600,"d":30100},{"t":368,"c":12200,"d":22200},{"t":370,"c":14000,"d":26400},{"t":372,"c":13300,"d":31700},{"t":374,"c":12600,"d":23600},{"t":376,"c":14500,"d":28600},{"t":378,"c":13000,"d":21600},{"t":380,"c":11900,"d":25900},
{"t":382,"c":12700,"d":25100},{"t":384,"c":14100,"d":29900},{"t":386,"c":13100,"d":22800},{"t":388,"c":14800,"d":27800},{"t":390,"c":12400,"d":20800},{"t":392,"c":13600,"d":26500},{"t":394,"c":13900,"d":31100},{"t":396,"c":12100,"d":24200},{"t":398,"c":13400,"d":28900},{"t":400,"c":14300,"d":22100},
{"t":402,"c":13500,"d":29300},{"t":404,"c":12300,"d":23600},{"t":406,"c":14700,"d":26800},{"t":408,"c":13000,"d":21700},{"t":410,"c":12600,"d":30600},{"t":412,"c":14200,"d":24800},{"t":414,"c":13700,"d":28200},{"t":416,"c":12800,"d":22600},{"t":418,"c":11900,"d":30100},{"t":420,"c":14000,"d":25900},
{"t":422,"c":12900,"d":26400},{"t":424,"c":14400,"d":22100},{"t":426,"c":12600,"d":29200},{"t":428,"c":13800,"d":24600},{"t":430,"c":13300,"d":20900},{"t":432,"c":12100,"d":27900},{"t":434,"c":14500,"d":31200},{"t":436,"c":13100,"d":23500},{"t":438,"c":13600,"d":26200},{"t":440,"c":12400,"d":29700},
{"t":442,"c":14100,"d":23100},{"t":444,"c":13000,"d":28700},{"t":446,"c":12200,"d":25400},{"t":448,"c":13900,"d":21400},{"t":450,"c":14700,"d":29900},{"t":452,"c":12800,"d":24300},{"t":454,"c":13400,"d":27200},{"t":456,"c":12500,"d":31700},{"t":458,"c":14300,"d":22100},{"t":460,"c":13200,"d":26300},
{"t":462,"c":12600,"d":28300},{"t":464,"c":13700,"d":24700},{"t":466,"c":14300,"d":30200},{"t":468,"c":12100,"d":22800},{"t":470,"c":13400,"d":26800},{"t":472,"c":14600,"d":20600},{"t":474,"c":12900,"d":29300},{"t":476,"c":13800,"d":25100},{"t":478,"c":12300,"d":30900},{"t":480,"c":13100,"d":23200},
{"t":482,"c":13800,"d":25800},{"t":484,"c":12500,"d":29900},{"t":486,"c":13200,"d":22200},{"t":488,"c":14500,"d":27900},{"t":490,"c":11900,"d":24400},{"t":492,"c":13600,"d":31100},{"t":494,"c":14200,"d":23100},{"t":496,"c":12700,"d":28800},{"t":498,"c":13400,"d":26400},{"t":500,"c":14700,"d":21700},
{"t":502,"c":13100,"d":29800},{"t":504,"c":14200,"d":24300},{"t":506,"c":12400,"d":28100},{"t":508,"c":13700,"d":22200},{"t":510,"c":12800,"d":26200},{"t":512,"c":14400,"d":31400},{"t":514,"c":12100,"d":23400},{"t":516,"c":13900,"d":29200},{"t":518,"c":13000,"d":24900},{"t":520,"c":12600,"d":27900},
{"t":522,"c":14500,"d":23600},{"t":524,"c":12800,"d":29100},{"t":526,"c":13900,"d":26600},{"t":528,"c":13300,"d":30800},{"t":530,"c":12300,"d":22600},{"t":532,"c":14000,"d":27900},{"t":534,"c":13100,"d":25300},{"t":536,"c":12600,"d":31900},{"t":538,"c":13700,"d":21900},{"t":540,"c":12000,"d":28400},
{"t":542,"c":12400,"d":28100},{"t":544,"c":13800,"d":22900},{"t":546,"c":12900,"d":29800},{"t":548,"c":14600,"d":25800},{"t":550,"c":13400,"d":21200},{"t":552,"c":12100,"d":30600},{"t":554,"c":14300,"d":26800},{"t":556,"c":13200,"d":24200},{"t":558,"c":12700,"d":29600},{"t":560,"c":14100,"d":25300},
{"t":562,"c":13600,"d":26200},{"t":564,"c":12700,"d":30900},{"t":566,"c":14400,"d":23400},{"t":568,"c":12200,"d":28800},{"t":570,"c":13100,"d":24700},{"t":572,"c":13900,"d":22100},{"t":574,"c":12500,"d":29900},{"t":576,"c":14800,"d":27700},{"t":578,"c":13300,"d":23100},{"t":580,"c":12900,"d":31600},
{"t":582,"c":14200,"d":29400},{"t":584,"c":13100,"d":25400},{"t":586,"c":12600,"d":27800},{"t":588,"c":14000,"d":22600},{"t":590,"c":13500,"d":31100},{"t":592,"c":12400,"d":26500},{"t":594,"c":14700,"d":24300},{"t":596,"c":12900,"d":30100},{"t":598,"c":13800,"d":21800},{"t":600,"c":12100,"d":28600},
{"t":602,"c":12900,"d":25100},{"t":604,"c":14500,"d":30300},{"t":606,"c":13400,"d":26800},{"t":608,"c":12700,"d":23200},{"t":610,"c":14100,"d":28700},{"t":612,"c":13200,"d":31900},{"t":614,"c":12300,"d":24600},{"t":616,"c":13900,"d":27900},{"t":618,"c":14600,"d":26100},{"t":620,"c":13000,"d":22200},
{"t":622,"c":13700,"d":29700},{"t":624,"c":12400,"d":23600},{"t":626,"c":14000,"d":28300},{"t":628,"c":13100,"d":25900},{"t":630,"c":12800,"d":31300},{"t":632,"c":14500,"d":22700},{"t":634,"c":13500,"d":27600},{"t":636,"c":12200,"d":24800},{"t":638,"c":13300,"d":30600},{"t":640,"c":14300,"d":26400},
{"t":642,"c":12600,"d":27800},{"t":644,"c":14100,"d":31600},{"t":646,"c":14700,"d":25200},{"t":648,"c":13400,"d":29200},{"t":650,"c":12900,"d":23300},{"t":652,"c":13800,"d":28100},{"t":654,"c":12500,"d":30700},{"t":656,"c":14300,"d":22400},{"t":658,"c":13100,"d":26800},{"t":660,"c":13600,"d":29900},
{"t":662,"c":14000,"d":24600},{"t":664,"c":12800,"d":28600},{"t":666,"c":13300,"d":31100},{"t":668,"c":14500,"d":26200},{"t":670,"c":12400,"d":22700},{"t":672,"c":13700,"d":29900},{"t":674,"c":14200,"d":25100},{"t":676,"c":13000,"d":27900},{"t":678,"c":12700,"d":32100},{"t":680,"c":13900,"d":23600},
{"t":682,"c":13100,"d":29300},{"t":684,"c":13600,"d":25800},{"t":686,"c":12200,"d":27700},{"t":688,"c":12800,"d":31200},{"t":690,"c":13900,"d":23100},{"t":692,"c":12500,"d":28600},{"t":694,"c":13300,"d":24900},{"t":696,"c":12100,"d":30300},{"t":698,"c":13700,"d":26200},{"t":700,"c":12900,"d":22300},
{"t":702,"c":13400,"d":27100},{"t":704,"c":14100,"d":30700},{"t":706,"c":12700,"d":24300},{"t":708,"c":13900,"d":28400},{"t":710,"c":13000,"d":22100},{"t":712,"c":14600,"d":29600},{"t":714,"c":12500,"d":26200},{"t":716,"c":13700,"d":20400},{"t":718,"c":14300,"d":30600},{"t":720,"c":13200,"d":24900},
{"t":722,"c":13800,"d":28400},{"t":724,"c":14500,"d":23200},{"t":726,"c":13100,"d":31700},{"t":728,"c":14800,"d":26300},{"t":730,"c":13600,"d":29200},{"t":732,"c":12900,"d":21300},{"t":734,"c":14200,"d":27600},{"t":736,"c":15000,"d":30900},{"t":738,"c":13400,"d":24400},{"t":740,"c":13900,"d":29600},
{"t":742,"c":14600,"d":26100},{"t":744,"c":13300,"d":30100},{"t":746,"c":14100,"d":23300},{"t":748,"c":13700,"d":28200},{"t":750,"c":15200,"d":25100},{"t":752,"c":13000,"d":31100},{"t":754,"c":14400,"d":22600},{"t":756,"c":12800,"d":29300},{"t":758,"c":13600,"d":26800},{"t":760,"c":12500,"d":27900},
{"t":762,"c":13300,"d":30200},{"t":764,"c":12200,"d":24800},{"t":766,"c":13700,"d":28600},{"t":768,"c":12600,"d":23400},{"t":770,"c":13100,"d":31800},{"t":772,"c":11900,"d":26400},{"t":774,"c":13500,"d":29300},{"t":776,"c":12400,"d":22300},{"t":778,"c":12900,"d":27600},{"t":780,"c":13800,"d":30900},
{"t":782,"c":12700,"d":25100},{"t":784,"c":14000,"d":29700},{"t":786,"c":12100,"d":27300},{"t":788,"c":13400,"d":22900},{"t":790,"c":12900,"d":30100},{"t":792,"c":13700,"d":26100},{"t":794,"c":12400,"d":32200},{"t":796,"c":14100,"d":24500},{"t":798,"c":13100,"d":28300},{"t":800,"c":12600,"d":23600},
{"t":802,"c":13900,"d":29300},{"t":804,"c":12600,"d":25900},{"t":806,"c":14300,"d":30800},{"t":808,"c":13100,"d":23300},{"t":810,"c":12200,"d":27900},{"t":812,"c":13700,"d":29900},{"t":814,"c":12800,"d":24800},{"t":816,"c":14400,"d":31600},{"t":818,"c":13300,"d":22400},{"t":820,"c":12900,"d":27400},
{"t":822,"c":12400,"d":26600},{"t":824,"c":13700,"d":30600},{"t":826,"c":13000,"d":24100},{"t":828,"c":14600,"d":28600},{"t":830,"c":12700,"d":22900},{"t":832,"c":13400,"d":29600},{"t":834,"c":14100,"d":26200},{"t":836,"c":12200,"d":31100},{"t":838,"c":13600,"d":24600},{"t":840,"c":13000,"d":29100},
{"t":842,"c":13500,"d":23800},{"t":844,"c":12800,"d":28200},{"t":846,"c":14100,"d":30100},{"t":848,"c":12400,"d":25900},{"t":850,"c":13800,"d":21900},{"t":852,"c":13100,"d":29100},{"t":854,"c":14600,"d":26800},{"t":856,"c":12700,"d":23400},{"t":858,"c":13300,"d":30600},{"t":860,"c":14000,"d":25300},
{"t":862,"c":12900,"d":28400},{"t":864,"c":14200,"d":22800},{"t":866,"c":12300,"d":26400},{"t":868,"c":13600,"d":30300},{"t":870,"c":13100,"d":24600},{"t":872,"c":14700,"d":27600},{"t":874,"c":12600,"d":22200},{"t":876,"c":13800,"d":29400},{"t":878,"c":13200,"d":26100},{"t":880,"c":12100,"d":23500},
{"t":882,"c":13800,"d":25200},{"t":884,"c":12700,"d":29300},{"t":886,"c":13400,"d":22100},{"t":888,"c":14100,"d":27100},{"t":890,"c":12500,"d":23400},{"t":892,"c":13600,"d":28600},{"t":894,"c":13000,"d":30400},{"t":896,"c":14300,"d":24100},{"t":898,"c":12400,"d":26500},{"t":900,"c":13300,"d":20900},
{"t":902,"c":13100,"d":28900},{"t":904,"c":14500,"d":24900},{"t":906,"c":12600,"d":30700},{"t":908,"c":13700,"d":23400},{"t":910,"c":14000,"d":27800},{"t":912,"c":12800,"d":26100},{"t":914,"c":13400,"d":29800},{"t":916,"c":12200,"d":22700},{"t":918,"c":13900,"d":28300},{"t":920,"c":12700,"d":25100},
{"t":922,"c":13600,"d":22900},{"t":924,"c":12400,"d":27600},{"t":926,"c":13900,"d":30100},{"t":928,"c":13000,"d":25200},{"t":930,"c":12700,"d":21600},{"t":932,"c":14100,"d":29100},{"t":934,"c":12100,"d":26300},{"t":936,"c":13300,"d":30900},{"t":938,"c":12500,"d":24300},{"t":940,"c":13800,"d":27900},
{"t":942,"c":13000,"d":26700},{"t":944,"c":13800,"d":30800},{"t":946,"c":12500,"d":24200},{"t":948,"c":14300,"d":28600},{"t":950,"c":12900,"d":23100},{"t":952,"c":13400,"d":29800},{"t":954,"c":12200,"d":25900},{"t":956,"c":13700,"d":31600},{"t":958,"c":14100,"d":22200},{"t":960,"c":12700,"d":28100},
{"t":962,"c":13400,"d":29600},{"t":964,"c":12100,"d":25300},{"t":966,"c":13800,"d":27900},{"t":968,"c":12700,"d":30900},{"t":970,"c":14300,"d":23600},{"t":972,"c":12500,"d":28900},{"t":974,"c":13100,"d":26400},{"t":976,"c":13900,"d":22400},{"t":978,"c":12300,"d":30300},{"t":980,"c":12900,"d":27200},
{"t":982,"c":12500,"d":26200},{"t":984,"c":13600,"d":29900},{"t":986,"c":12200,"d":23700},{"t":988,"c":13100,"d":31800},{"t":990,"c":12700,"d":27800},{"t":992,"c":13900,"d":24800},{"t":994,"c":11800,"d":30600},{"t":996,"c":13300,"d":26800},{"t":998,"c":12400,"d":29100},{"t":1000,"c":12900,"d":32600}
]},
"transform": [{"fold": ["a", "b", "c", "d"], "as": ["s", "v"]}, {"filter": "isValid(datum.v)"}],
"mark": {"type": "point", "filled": false, "strokeWidth": 1.5, "size": 112, "opacity": 1},
"encoding": {
  "x": {"field": "t", "type": "quantitative",
    "scale": {"domain": [-40, 1041], "nice": false, "zero": false},
    "axis": {"values": [0, 200, 400, 600, 800, 1000], "format": "d", "title": "Time interval", "grid": false, "domain": false,
      "tickSize": 12, "tickColor": "black", "tickWidth": 1.3, "labelFontSize": 40, "labelColor": "black", "labelFont": "Liberation Sans",
      "labelPadding": 1, "labelFlush": false, "labelOverlap": false,
      "titleFontSize": 40, "titleFont": "Liberation Sans", "titleFontWeight": "normal", "titleColor": "black", "titlePadding": 3}},
  "y": {"field": "v", "type": "quantitative",
    "scale": {"domain": [-1590, 41610], "nice": false, "zero": false},
    "axis": {"values": [0, 10000, 20000, 30000, 40000], "format": "d",
      "labelExpr": "datum.value == 20000 || datum.value == 40000 ? '' : datum.label",
      "title": "#transaction conflicts per second", "grid": false, "domain": false,
      "tickSize": 12, "tickColor": "black", "tickWidth": 1.3, "labelFontSize": 40, "labelColor": "black", "labelFont": "Liberation Sans",
      "labelAngle": 270, "labelAlign": "center", "labelBaseline": "bottom", "labelPadding": 2, "labelOverlap": false, "labelFlush": false,
      "titleFontSize": 40, "titleFont": "Liberation Sans", "titleFontWeight": "normal", "titleColor": "black", "titlePadding": 0}},
  "color": {"field": "s", "type": "nominal",
    "scale": {"domain": ["a", "b", "c", "d"], "range": ["#0000FF", "#FF0000", "#FFA500", "#00FF00"]},
    "legend": {"title": null, "orient": "none", "legendX": 25, "legendY": 22,
      "labelExpr": "datum.label == 'a' ? 'idle' : datum.label == 'b' ? 'writes' : datum.label == 'c' ? 'io stress' : 'llvm'",
      "labelFontSize": 22, "labelFont": "Liberation Sans", "labelColor": "black", "symbolSize": 112, "symbolStrokeWidth": 1.5,
      "padding": 16, "rowPadding": 7, "labelOffset": 6, "strokeColor": "black"}},
  "shape": {"field": "s", "type": "nominal",
    "scale": {"domain": ["a", "b", "c", "d"], "range": [
      "M-1,0A1,1,0,1,1,1,0A1,1,0,1,1,-1,0Z",
      "M0,-1.555L1.347,0.778L-1.347,0.778Z",
      "M-1.414,0L1.414,0M0,-1.414L0,1.414",
      "M-1,-1L1,1M-1,1L1,-1"]},
    "legend": {"title": null, "orient": "none", "legendX": 25, "legendY": 22,
      "labelExpr": "datum.label == 'a' ? 'idle' : datum.label == 'b' ? 'writes' : datum.label == 'c' ? 'io stress' : 'llvm'",
      "labelFontSize": 22, "labelFont": "Liberation Sans", "labelColor": "black", "symbolSize": 112, "symbolStrokeWidth": 1.5,
      "padding": 16, "rowPadding": 7, "labelOffset": 6, "strokeColor": "black"}},
  "order": {"field": "s", "sort": "ascending"}
}
}
